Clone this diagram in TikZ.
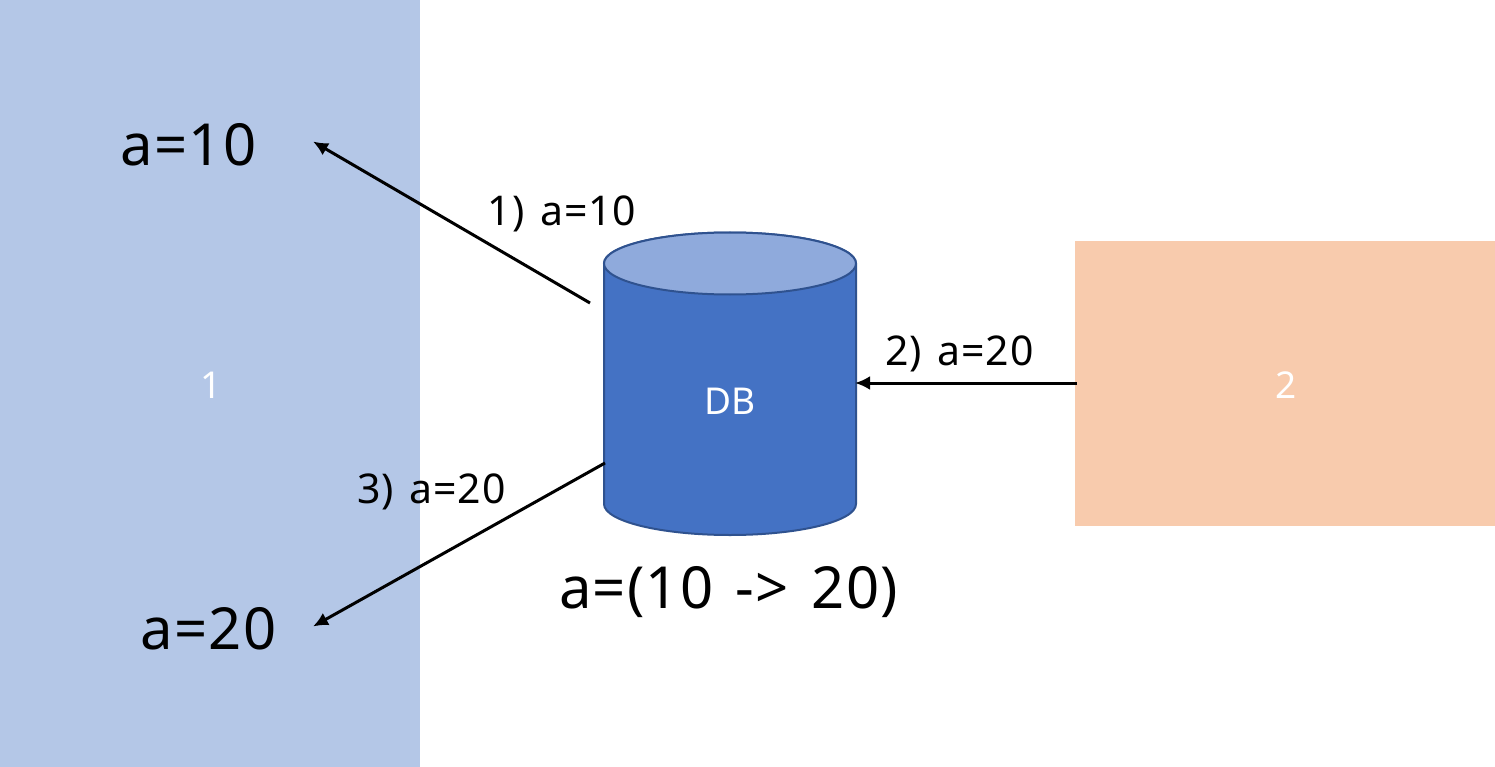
\documentclass[tikz,border=0pt]{standalone}
\usepackage{fontspec}
\setmainfont{Noto Sans}
\newfontfamily\spaced[LetterSpace=2,WordSpace=1.4]{Noto Sans}
\definecolor{leftfill}{HTML}{B4C7E7}
\definecolor{rightfill}{HTML}{F8CBAD}
\definecolor{dbbody}{HTML}{4472C4}
\definecolor{dbtop}{HTML}{8FAADC}
\definecolor{dbline}{HTML}{2F528F}
\usetikzlibrary{arrows.meta}
\tikzset{
  x=1pt,y=-1pt,
  big/.style={inner sep=0pt,anchor=center,font=\spaced\fontsize{58}{64}\selectfont,text=black},
  small/.style={inner sep=0pt,anchor=center,font=\spaced\fontsize{41}{46}\selectfont,text=black},
  inner/.style={inner sep=0pt,anchor=center,font=\fontsize{37}{42}\selectfont,text=white},
  conn/.style={draw=black,line width=3pt,-{Latex[length=15pt,width=14pt]}},
}
\begin{document}
\begin{tikzpicture}
\useasboundingbox (0,0) rectangle (1495,767);
\fill[white] (0,0) rectangle (1495,767);
\node[fill=leftfill,minimum width=420pt,minimum height=767pt,inner sep=0pt,outer sep=0pt] (left) at (210,383.5) {};
\node[fill=rightfill,minimum width=420pt,minimum height=285pt,inner sep=0pt,outer sep=0pt] (right) at (1285,383.5) {};
\node[inner] (one) at (211,385) {1};
\node[inner] (two) at (1286,385) {2};
% cylinder
\path[fill=dbbody,draw=dbline,line width=2pt] (604,263.5) -- (604,504) arc[start angle=180,end angle=360,x radius=126,y radius=-31] -- (856,263.5) arc[start angle=0,end angle=180,x radius=126,y radius=-31] -- cycle;
\path[fill=dbtop,draw=dbline,line width=2pt] (730,263.5) ellipse[x radius=126,y radius=31];
\node[inner] (db) at (730,401) {DB};
\node[big] (a10) at (188.5,144.5) {a=10};
\node[big] (a20) at (208.5,629) {a=20};
\node[big] (change) at (728.5,592) {a=(10 -> 20)};
\node[small] (l1) at (562,214) {1) a=10};
\node[small] (l2) at (959.5,354) {2) a=20};
\node[small] (l3) at (431.5,492) {3) a=20};
\coordinate (s1) at (590,303);
\coordinate (e1) at (313,141.5);
\coordinate (s2) at (1077,383);
\coordinate (e2) at (855,383);
\coordinate (s3) at (605,463);
\coordinate (e3) at (313,626.5);
\draw[conn] (s1) -- (e1);
\draw[conn] (s2) -- (e2);
\draw[conn] (s3) -- (e3);
\end{tikzpicture}
\end{document}
